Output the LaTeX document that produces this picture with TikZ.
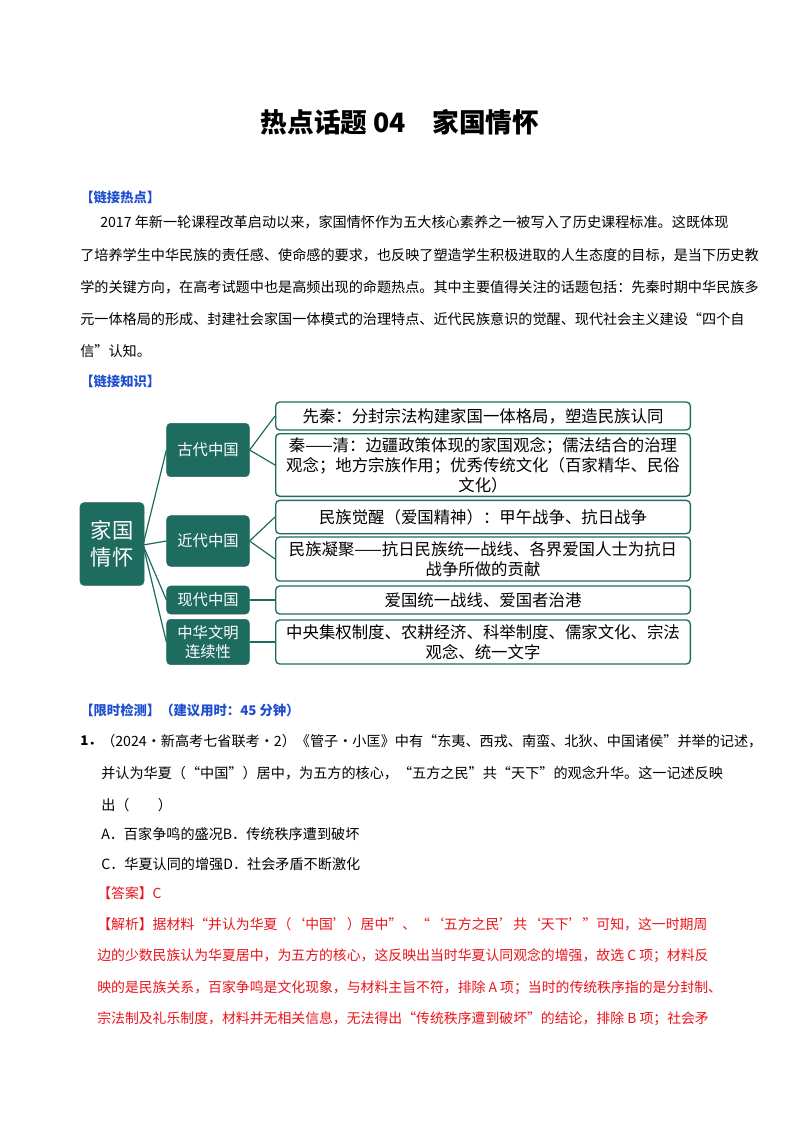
\documentclass[tikz,border=0pt]{standalone}
\usepackage{fontspec}
\setmainfont{Noto Sans CJK SC}
\definecolor{teal1}{HTML}{1E6B60}
\definecolor{blu}{HTML}{1F4FD0}
\definecolor{rd}{HTML}{E8141B}
\begin{document}
\begin{tikzpicture}[x=0.75pt,y=-0.75pt,
 t/.style={anchor=west,inner sep=0pt,font=\fontsize{10.6pt}{12pt}\selectfont},
 hd/.style={t,text=blu,font=\fontsize{10pt}{12pt}\selectfont\bfseries},
 r/.style={t,text=rd,font=\fontsize{10.4pt}{12pt}\selectfont},
 dk/.style={draw=teal1,fill=teal1,rounded corners=3pt,text=white,align=center,inner sep=1pt,font=\fontsize{11.5pt}{14pt}\selectfont},
 wb/.style={draw=teal1,line width=1pt,rounded corners=3pt,align=center,inner sep=1pt,font=\fontsize{12.3pt}{15pt}\selectfont},
 ln/.style={draw=teal1,line width=0.9pt}]
\useasboundingbox (0,0) rectangle (800,1132);
\node[inner sep=0pt,font=\fontsize{20pt}{24pt}\selectfont\bfseries] (title) at (400,122) {热点话题 04\quad 家国情怀};
\node[hd] (h1) at (80,197) {【链接热点】};
\node[t] (p1) at (100,222) {2017 年新一轮课程改革启动以来，家国情怀作为五大核心素养之一被写入了历史课程标准。这既体现};
\node[t] (p2) at (80,255) {了培养学生中华民族的责任感、使命感的要求，也反映了塑造学生积极进取的人生态度的目标，是当下历史教};
\node[t] (p3) at (80,287) {学的关键方向，在高考试题中也是高频出现的命题热点。其中主要值得关注的话题包括：先秦时期中华民族多};
\node[t] (p4) at (80,319) {元一体格局的形成、封建社会家国一体模式的治理特点、近代民族意识的觉醒、现代社会主义建设“四个自};
\node[t] (p5) at (80,351) {信”认知。};
\node[hd] (h2) at (80,381) {【链接知识】};
% diagram
\node[dk,minimum width=48pt,minimum height=62pt,font=\fontsize{16pt}{20pt}\selectfont] (m) at (112,544) {家国\\情怀};
\node[dk,minimum width=62pt,minimum height=40pt] (a) at (208,450) {古代中国};
\node[dk,minimum width=62pt,minimum height=38pt] (b) at (208,541) {近代中国};
\node[dk,minimum width=62pt,minimum height=21pt] (c) at (208,600) {现代中国};
\node[dk,minimum width=62pt,minimum height=34pt] (d) at (208,642) {中华文明\\连续性};
\node[wb,minimum width=311pt,minimum height=21pt] (a1) at (483,416) {先秦：分封宗法构建家国一体格局，塑造民族认同};
\node[wb,minimum width=311pt,minimum height=47pt] (a2) at (483,465) {秦——清：边疆政策体现的家国观念；儒法结合的治理\\观念；地方宗族作用；优秀传统文化（百家精华、民俗\\文化）};
\node[wb,minimum width=311pt,minimum height=25pt] (b1) at (483,517) {民族觉醒（爱国精神）：甲午战争、抗日战争};
\node[wb,minimum width=311pt,minimum height=33pt] (b2) at (483,559) {民族凝聚——抗日民族统一战线、各界爱国人士为抗日\\战争所做的贡献};
\node[wb,minimum width=311pt,minimum height=21pt] (c1) at (483,600) {爱国统一战线、爱国者治港};
\node[wb,minimum width=311pt,minimum height=33pt] (d1) at (483,642) {中央集权制度、农耕经济、科举制度、儒家文化、宗法\\观念、统一文字};
\coordinate (mo) at (143,545);
\draw[ln] (mo) -- (a.west);
\draw[ln] (mo) -- (b.west);
\draw[ln] (mo) -- (c.west);
\draw[ln] (mo) -- (d.west);
\draw[ln] (a.east) -- (a1.west);
\draw[ln] (a.east) -- (a2.west);
\draw[ln] (b.east) -- (b1.west);
\draw[ln] (b.east) -- (b2.west);
\draw[ln] (c.east) -- (c1.west);
\draw[ln] (d.east) -- (d1.west);
% questions
\node[hd] (h3) at (80,710) {【限时检测】（建议用时：45 分钟）};
\node[t,font=\fontsize{10pt}{12pt}\selectfont\bfseries] (q) at (80,741) {1．};
\node[t] (q1) at (101,741) {（2024·新高考七省联考·2）《管子·小匡》中有“东夷、西戎、南蛮、北狄、中国诸侯”并举的记述，};
\node[t] (q2) at (101,773) {并认为华夏（“中国”）居中，为五方的核心，“五方之民”共“天下”的观念升华。这一记述反映};
\node[t] (q3) at (101,805) {出（\qquad ）};
\node[t] (qa) at (101,834) {A．百家争鸣的盛况B．传统秩序遭到破坏};
\node[t] (qc) at (101,864) {C．华夏认同的增强D．社会矛盾不断激化};
\node[r] (ans) at (97,893) {【答案】C};
\node[r] (e1) at (97,924) {【解析】据材料“并认为华夏（‘中国’）居中”、“‘五方之民’共‘天下’”可知，这一时期周};
\node[r] (e2) at (97,956) {边的少数民族认为华夏居中，为五方的核心，这反映出当时华夏认同观念的增强，故选 C 项；材料反};
\node[r] (e3) at (97,988) {映的是民族关系，百家争鸣是文化现象，与材料主旨不符，排除 A 项；当时的传统秩序指的是分封制、};
\node[r] (e4) at (97,1019) {宗法制及礼乐制度，材料并无相关信息，无法得出“传统秩序遭到破坏”的结论，排除 B 项；社会矛};
\end{tikzpicture}
\end{document}
